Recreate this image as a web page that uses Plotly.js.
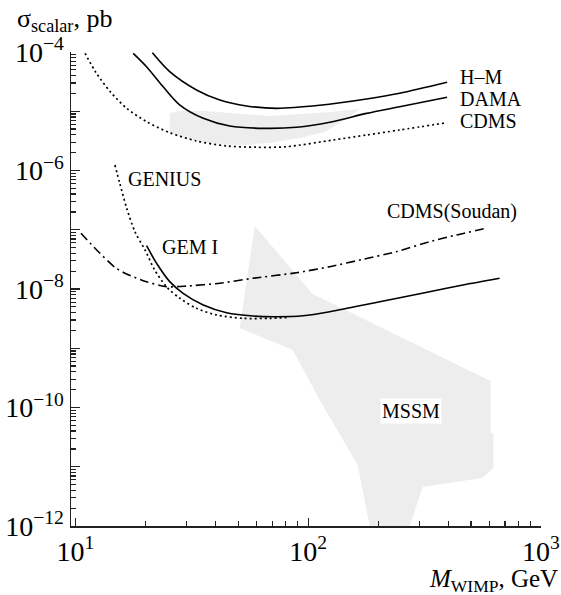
<!DOCTYPE html>
<html>
<head>
<meta charset="utf-8">
<script src="https://cdn.plot.ly/plotly-3.0.1.min.js"></script>
<style>html,body{margin:0;padding:0;background:#fff;}#chart{width:561px;height:595px;}</style>
</head>
<body>
<div id="chart"></div>
<script>
// ---- data (WIMP mass in GeV, cross section in pb) ----
const hmMass   = [21.4, 25.4, 33.1, 41.7, 54.3, 73.0, 112, 178, 247, 395];
const hmSigma  = [9.7e-5, 4.66e-5, 2.29e-5, 1.55e-5, 1.23e-5, 1.12e-5, 1.26e-5, 1.61e-5, 2.01e-5, 3.08e-5];

const damaMass  = [17.7, 20.2, 23.8, 28.1, 35.4, 46.0, 64.0, 89.0, 127, 178, 247, 395];
const damaSigma = [9.5e-5, 5.65e-5, 2.59e-5, 1.27e-5, 7.6e-6, 5.64e-6, 5.15e-6, 5.36e-6, 6.67e-6, 9.2e-6, 1.19e-5, 1.72e-5];

const cdmsMass  = [10.99, 12.3, 14.1, 16.6, 20.2, 25.4, 33.1, 44.5, 60, 80.6, 128, 178, 247, 395];
const cdmsSigma = [9.5e-5, 4.38e-5, 2.14e-5, 1.12e-5, 6.67e-6, 4.35e-6, 3.15e-6, 2.6e-6, 2.47e-6, 2.52e-6, 3.27e-6, 3.97e-6, 4.83e-6, 6.41e-6];

const geniusMass  = [14.77, 15.5, 16.6, 18.0, 19.9, 21.9, 24.6, 28.1, 33.1, 40.4, 52.5, 68.4, 83.3];
const geniusSigma = [1.24e-6, 6.08e-7, 2.30e-7, 9.27e-8, 4.55e-8, 2.09e-8, 1.09e-8, 6.97e-9, 4.72e-9, 3.64e-9, 3.2e-9, 3.2e-9, 3.3e-9];

const gemMass  = [20.2, 22.3, 25.4, 29.0, 35.4, 44.6, 57.9, 73.0, 95.0, 123.7, 202.8, 332, 461.7, 663.5];
const gemSigma = [5.38e-8, 2.72e-8, 1.33e-8, 8.45e-9, 5.37e-9, 3.98e-9, 3.50e-9, 3.41e-9, 3.54e-9, 4.14e-9, 6.11e-9, 9.0e-9, 1.17e-8, 1.52e-8];

const soudanMass  = [10.56, 12.33, 14.77, 16.59, 20.2, 24.6, 30.0, 41.7, 57.9, 89.0, 123.7, 171.9, 239.1, 332.3, 432.5, 582];
const soudanSigma = [8.71e-8, 4.55e-8, 2.32e-8, 1.79e-8, 1.33e-8, 1.09e-8, 1.12e-8, 1.25e-8, 1.52e-8, 1.88e-8, 2.38e-8, 3.17e-8, 4.27e-8, 6.28e-8, 8.15e-8, 1.06e-7];

// MSSM allowed regions (polygon outlines)
const mssmUpperMass  = [25.4, 28.1, 35.9, 50.8, 68.4, 91.9, 123.7, 166.3, 143.5, 117.7, 91.9, 68.4, 50.8, 37.8, 29.5, 25.4];
const mssmUpperSigma = [9.3e-6, 1.01e-5, 1.01e-5, 9.0e-6, 8.3e-6, 9.0e-6, 9.7e-6, 1.09e-5, 7.1e-6, 4.47e-6, 3.54e-6, 2.91e-6, 2.69e-6, 2.91e-6, 3.54e-6, 4.3e-6];

const mssmLowerMass  = [58.9, 104.5, 607, 607, 625, 625, 558, 310, 272.7, 183.7, 163.1, 112, 85.8, 50.8];
const mssmLowerSigma = [1.156e-7, 8.24e-9, 2.80e-10, 3.86e-11, 3.57e-11, 9.5e-12, 6.46e-12, 4.55e-12, 1e-12, 1e-12, 1.07e-11, 1.34e-10, 9.33e-10, 2.20e-9];

// ticks and labels
const xTickVals = [10, 100, 1000];
const xTickText = ['10<sup>1</sup>', '10<sup>2</sup>', '10<sup>3</sup>'];
const yTickVals = [1e-12, 1e-11, 1e-10, 1e-9, 1e-8, 1e-7, 1e-6, 1e-5, 1e-4];
const yTickText = ['10<sup>−12</sup>', '', '10<sup>−10</sup>', '', '10<sup>−8</sup>', '', '10<sup>−6</sup>', '', '10<sup>−4</sup>'];
const minorDigits = [2, 3, 4, 5, 6, 7, 8, 9];

// ---- build ----
function minorVals(lo, hi) {
  const out = [];
  for (let d = lo; d < hi; d++) minorDigits.forEach(m => out.push(m * Math.pow(10, d)));
  return out;
}

const FONT = 'Liberation Serif, Times New Roman, serif';
const grey = '#ededed';

const traces = [
  {x: mssmUpperMass, y: mssmUpperSigma, mode: 'lines', fill: 'toself', fillcolor: grey, line: {width: 0, color: grey}},
  {x: mssmLowerMass, y: mssmLowerSigma, mode: 'lines', fill: 'toself', fillcolor: grey, line: {width: 0, color: grey}},
  {x: hmMass, y: hmSigma, mode: 'lines', line: {color: '#000', width: 1.6, shape: 'spline', smoothing: 0.8}},
  {x: damaMass, y: damaSigma, mode: 'lines', line: {color: '#000', width: 1.6, shape: 'spline', smoothing: 0.8}},
  {x: cdmsMass, y: cdmsSigma, mode: 'lines', line: {color: '#000', width: 1.7, dash: '2px,3px', shape: 'spline', smoothing: 0.8}},
  {x: geniusMass, y: geniusSigma, mode: 'lines', line: {color: '#000', width: 1.7, dash: '2px,3px', shape: 'spline', smoothing: 0.8}},
  {x: gemMass, y: gemSigma, mode: 'lines', line: {color: '#000', width: 1.6, shape: 'spline', smoothing: 0.8}},
  {x: soudanMass, y: soudanSigma, mode: 'lines', line: {color: '#000', width: 1.6, dash: '9px,4px,2px,4px', shape: 'spline', smoothing: 0.6}}
];

const labelFont = {family: FONT, size: 20, color: '#000'};
function lab(text, x, y, xanchor, extra) {
  return Object.assign({text: text, x: x, y: y, xref: 'x', yref: 'y', xanchor: xanchor, yanchor: 'middle',
    showarrow: false, font: labelFont}, extra || {});
}

const layout = {
  width: 561, height: 595,
  margin: {l: 71, r: 20, t: 52, b: 69, pad: 0},
  paper_bgcolor: '#fff', plot_bgcolor: '#fff',
  showlegend: false,
  font: {family: FONT, color: '#000'},
  xaxis: {
    type: 'log', range: [0.9807, 3], showgrid: false, zeroline: false,
    showline: true, linecolor: '#222', linewidth: 1.5,
    ticks: 'inside', ticklen: 8, tickwidth: 1.2, tickcolor: '#222',
    tickmode: 'array', tickvals: xTickVals, ticktext: xTickText,
    tickfont: {family: FONT, size: 28, color: '#000'},
    minor: {ticks: 'inside', ticklen: 5, tickwidth: 1.2, tickcolor: '#222', tickmode: 'array', tickvals: minorVals(1, 3), showgrid: false}
  },
  yaxis: {
    type: 'log', range: [-12, -4], showgrid: false, zeroline: false,
    showline: true, linecolor: '#222', linewidth: 1.5,
    ticks: 'inside', ticklen: 9, tickwidth: 1.2, tickcolor: '#222',
    tickmode: 'array', tickvals: yTickVals, ticktext: yTickText,
    tickfont: {family: FONT, size: 28, color: '#000'},
    minor: {ticks: 'inside', ticklen: 5, tickwidth: 1.2, tickcolor: '#222', tickmode: 'array', tickvals: minorVals(-12, -4), showgrid: false}
  },
  annotations: [
    lab('H–M', 2.6416, -4.422, 'left'),
    lab('DAMA', 2.6416, -4.793, 'left'),
    lab('CDMS', 2.6416, -5.165, 'left'),
    lab('GENIUS', 1.2167, -6.143, 'left'),
    lab('GEM I', 1.3627, -7.291, 'left'),
    lab('CDMS(Soudan)', 2.3283, -6.700, 'left'),
    lab('MSSM', 2.442, -10.059, 'center', {bgcolor: '#fff', borderpad: 1}),
    {text: 'σ<sub>scalar</sub>, pb', xref: 'paper', yref: 'paper', x: -0.119, y: 1.068, xanchor: 'left', yanchor: 'middle',
     showarrow: false, font: {family: FONT, size: 26, color: '#000'}},
    {text: '<i>M</i><sub>WIMP</sub>, GeV', xref: 'paper', yref: 'paper', x: 1.0404, y: -0.114, xanchor: 'right', yanchor: 'middle',
     showarrow: false, font: {family: FONT, size: 25, color: '#000'}}
  ]
};

Plotly.newPlot('chart', traces, layout, {displayModeBar: false, staticPlot: true});
</script>
</body>
</html>
